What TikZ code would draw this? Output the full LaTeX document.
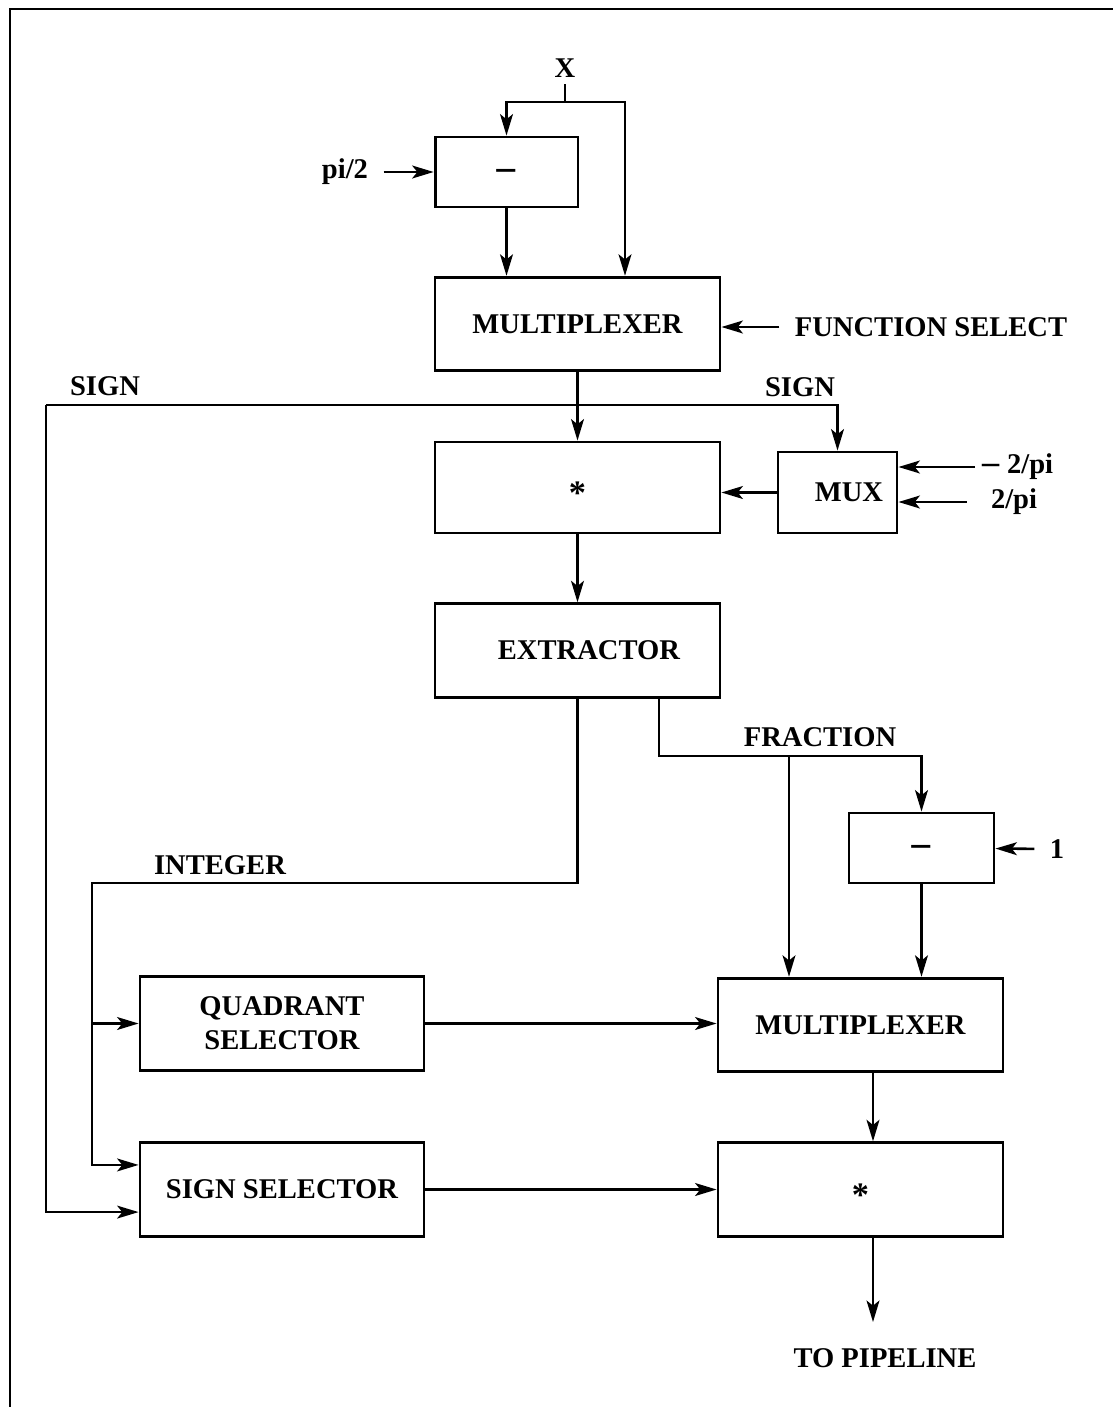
\documentclass[tikz,border=0pt]{standalone}
\usepackage{fontspec}
\setmainfont{Liberation Serif}
\usetikzlibrary{arrows.meta}

\tikzset{
    blk/.style={draw, line width=1pt, inner sep=0pt, align=center, font=\bfseries},
    wide/.style={blk, minimum width=99.75pt, minimum height=32.75pt},
    lbl/.style={font=\bfseries, inner sep=2pt},
    minus/.style={font=\Large\bfseries, text height=0.84em, text depth=0pt},
    star/.style={font=\large\bfseries, text height=1.18em, text depth=0pt},
}

\begin{document}
\begin{tikzpicture}[x=0.35pt, y=-0.35pt, line width=0.9pt,
    >={Stealth[length=7.5pt, width=4.5pt, inset=1.8pt]}]
    \useasboundingbox (0,0) rectangle (1113,1407);

    % frame (top and left only)
    \draw[line width=1pt] (10,1407) -- (10,9) -- (1113,9);

    % blocks
    \node[blk, minus, minimum width=50pt, minimum height=24.5pt] (sub1) at (506.5,172) {−};
    \node[wide] (mux1) at (577.5,324) {MULTIPLEXER};
    \node[wide, star, minimum height=31.85pt] (mul1) at (577.5,487.5) {*};
    \node[blk, minimum width=41.65pt, minimum height=28.35pt] (muxs) at (837.5,492.5) {\hspace*{8pt}MUX};
    \node[wide] (ext) at (577.5,650.5) {\hspace*{8pt}EXTRACTOR};
    \node[blk, minus, minimum width=50.75pt, minimum height=24.5pt] (sub2) at (921.5,848) {−};
    \node[wide, minimum width=99.4pt] (quad) at (282,1023.5) {QUADRANT\\SELECTOR};
    \node[wide] (mux3) at (860.5,1025) {MULTIPLEXER};
    \node[wide, minimum width=99.4pt] (sgn) at (282,1189.5) {SIGN SELECTOR};
    \node[wide, star] (mul2) at (860.5,1189.5) {*};

    % labels
    \node[lbl] (xin) at (565,68) {X};
    \node[lbl] (pi2) at (345,172) {pi/2};
    \node[lbl] (fsel) at (931,327) {FUNCTION SELECT};
    \node[lbl] (sgnl) at (105,386) {SIGN};
    \node[lbl] (sgnr) at (800,387) {SIGN};
    \node[lbl, anchor=west] (npi) at (975,467) {{\large –}\;2/pi};
    \node[lbl, anchor=west] (ppi) at (984,502) {2/pi};
    \node[lbl] (frac) at (820,737) {FRACTION};
    \node[lbl] (one) at (1057,849) {1};
    \node[lbl] (intg) at (220,865) {INTEGER};
    \node[lbl] (pipe) at (885,1358) {TO PIPELINE};

    \coordinate (xs) at (565,102);
    \coordinate (xr) at (625,102);
    \coordinate (sl) at (46,405);
    \coordinate (il) at (92,883);
    \coordinate (fb) at (789,756);
    \coordinate (tp) at (873,1322);

    % input X
    \draw (xin) -- (xs);
    \draw[->] (xs) -| (sub1);
    \draw[->] (xs) -- (xr) -- (xr |- mux1.north);
    \draw[->, shorten <=3pt] (pi2) -- (sub1);
    \draw[->] (sub1) -- (sub1 |- mux1.north);
    \draw[->, shorten <=3pt] (fsel.west) -- (fsel.west -| mux1.east);

    % scaling
    \draw[->] (mux1) -- (mul1);
    \draw[->] (sl) -| (muxs);
    \draw[->] (sl) |- ([yshift=-7.9pt]sgn.west);
    \draw[->] (npi.west) -- (npi.west -| muxs.east);
    \draw[->, shorten <=6pt] (ppi.west) -- (ppi.west -| muxs.east);
    \draw[->] (muxs.west) -- (muxs.west -| mul1.east);
    \draw[->] (mul1) -- (ext);

    % integer part
    \draw[->] (ext.south) |- (il) |- ([yshift=8.6pt]sgn.west);
    \draw[->] (il |- quad.west) -- (quad.west);

    % fraction part
    \draw[->] ([xshift=28.5pt]ext.south) |- (fb) -| (sub2);
    \draw[->] (fb) -- (fb |- mux3.north);
    \draw[->, shorten <=3pt] (one) -- (sub2);
    \draw[->] (sub2) -- (sub2 |- mux3.north);

    % output
    \draw[->] (quad.east) -- (quad.east -| mux3.west);
    \draw[->] (sgn.east) -- (sgn.east -| mul2.west);
    \draw[->] (tp |- mux3.south) -- (tp |- mul2.north);
    \draw[->] (tp |- mul2.south) -- (tp);
\end{tikzpicture}
\end{document}
